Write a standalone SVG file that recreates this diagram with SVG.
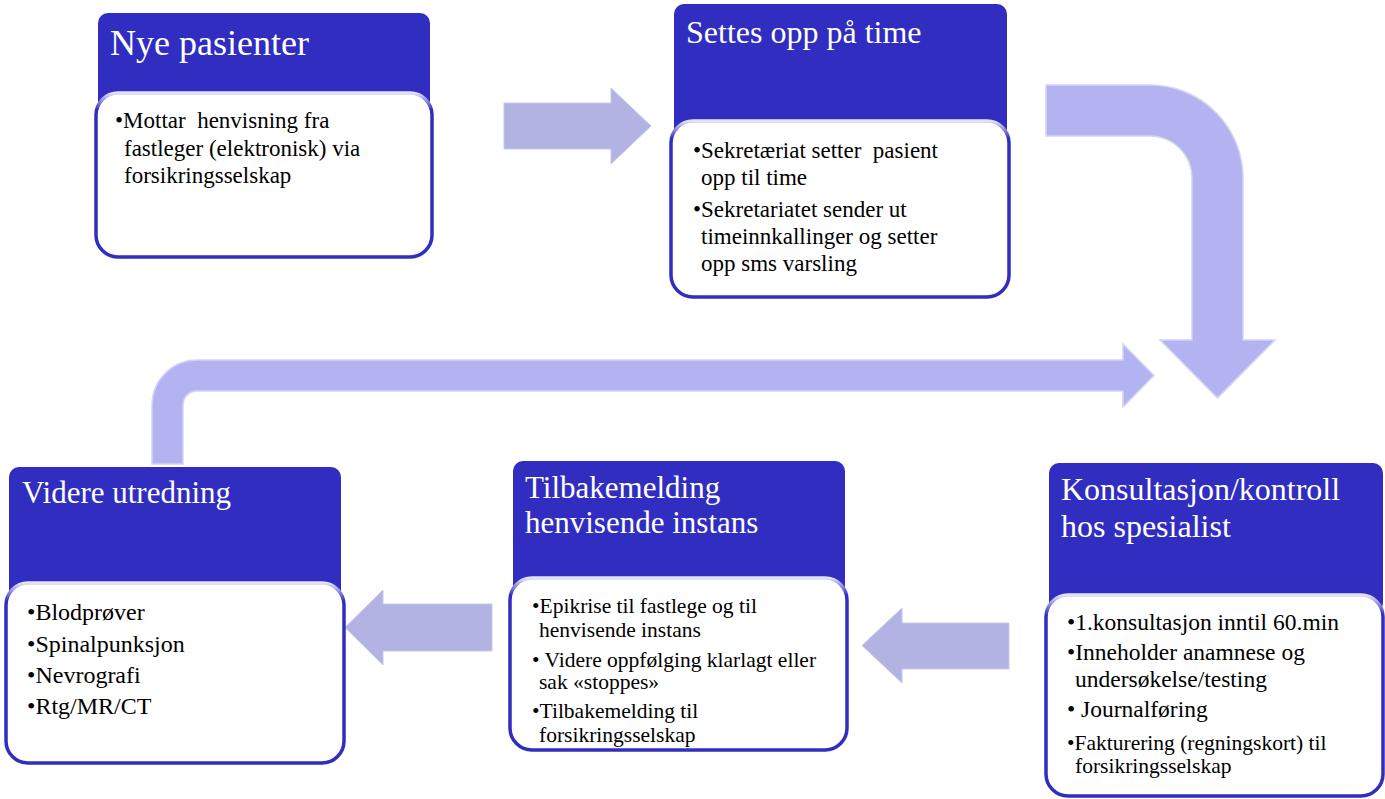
<svg xmlns="http://www.w3.org/2000/svg" width="1385" height="799" viewBox="0 0 1385 799">
<defs>
<linearGradient id="edge" x1="0" y1="0" x2="0" y2="1">
<stop offset="0" stop-color="#E4E4F6"/>
<stop offset="0.1" stop-color="#302DC0"/>
<stop offset="1" stop-color="#302DC0"/>
</linearGradient>
</defs>
<style>
.hdr{fill:#302DC0}
.body{fill:#FFFFFF;stroke:url(#edge);stroke-width:3.5}
.title{font-family:"Liberation Serif","Times New Roman",serif;fill:#FFFFFF}
.txt{font-family:"Liberation Serif","Times New Roman",serif;fill:#000000;white-space:pre}
.arr{fill:#B3B3E3;stroke:#C6C6EC;stroke-width:1}
.carr{fill:#B3B3F2;stroke:#D4D4F7;stroke-width:1.5}
</style>
<rect width="1385" height="799" fill="#FFFFFF"/>
<g id="connectors">
<path class="arr" d="M504,103 H611 V88 L651,126 L611,164 V149 H504 Z"/>
<path class="carr" d="M1046,85 H1150 A93,93 0 0 1 1243,178 V340 H1275 L1217.5,398 L1160,340 H1192 V178 A42,42 0 0 0 1150,136 H1046 Z"/>
<path class="arr" d="M1009,623 H902 V608 L862,645.5 L902,683 V669 H1009 Z"/>
<path class="arr" d="M492,604 H383 V590 L345,627.5 L383,665 V651 H492 Z"/>
<path class="carr" d="M152,464 V405 A45,45 0 0 1 197,360 H1123 V344 L1154,375.5 L1123,407 V391 H197 A14,14 0 0 0 183,405 V464 Z"/>
</g>
<g id="node-nye-pasienter">
<rect class="hdr" x="98" y="13" width="332" height="100" rx="10"/>
<rect class="body" x="96" y="93" width="336" height="164" rx="22"/>
<text class="title" x="110" y="55" font-size="36">Nye pasienter</text>
<g class="txt" font-size="23">
<text x="115" y="128" xml:space="preserve">•Mottar  henvisning fra</text>
<text x="124" y="156">fastleger (elektronisk) via</text>
<text x="124" y="183">forsikringsselskap</text>
</g>
</g>
<g id="node-settes-opp">
<rect class="hdr" x="674" y="4" width="333" height="135" rx="10"/>
<rect class="body" x="671" y="121" width="338" height="176" rx="22"/>
<text class="title" x="686" y="43" font-size="32">Settes opp på time</text>
<g class="txt" font-size="23">
<text x="693" y="158" xml:space="preserve">•Sekretæriat setter  pasient</text>
<text x="701" y="185">opp til time</text>
<text x="693" y="217">•Sekretariatet sender ut</text>
<text x="701" y="244">timeinnkallinger og setter</text>
<text x="701" y="271">opp sms varsling</text>
</g>
</g>
<g id="node-konsultasjon">
<rect class="hdr" x="1049" y="463" width="334" height="150" rx="10"/>
<rect class="body" x="1046" y="595" width="337" height="201" rx="22"/>
<text class="title" font-size="32"><tspan x="1061" y="500">Konsultasjon/kontroll</tspan><tspan x="1061" y="537">hos spesialist</tspan></text>
<g class="txt" font-size="23.5">
<text x="1067" y="630">•1.konsultasjon inntil 60.min</text>
<text x="1067" y="660">•Inneholder anamnese og</text>
<text x="1075" y="687">undersøkelse/testing</text>
<text x="1067" y="717" xml:space="preserve">• Journalføring</text>
</g>
<g class="txt" font-size="21.5">
<text x="1067" y="750">•Fakturering (regningskort) til</text>
<text x="1075" y="773">forsikringsselskap</text>
</g>
</g>
<g id="node-tilbakemelding">
<rect class="hdr" x="513" y="461" width="332" height="135" rx="10"/>
<rect class="body" x="510" y="578" width="337" height="172" rx="22"/>
<text class="title" font-size="31"><tspan x="525" y="498">Tilbakemelding</tspan><tspan x="525" y="533">henvisende instans</tspan></text>
<g class="txt" font-size="21.5">
<text x="532" y="613">•Epikrise til fastlege og til</text>
<text x="539" y="637">henvisende instans</text>
<text x="532" y="667" xml:space="preserve">• Videre oppfølging klarlagt eller</text>
<text x="539" y="689">sak «stoppes»</text>
<text x="532" y="718">•Tilbakemelding til</text>
<text x="539" y="742">forsikringsselskap</text>
</g>
</g>
<g id="node-videre-utredning">
<rect class="hdr" x="9" y="467" width="332" height="135" rx="10"/>
<rect class="body" x="6" y="583" width="338" height="180" rx="22"/>
<text class="title" x="22" y="503" font-size="31">Videre utredning</text>
<g class="txt" font-size="24">
<text x="27" y="620">•Blodprøver</text>
<text x="27" y="652">•Spinalpunksjon</text>
<text x="27" y="683">•Nevrografi</text>
<text x="27" y="714">•Rtg/MR/CT</text>
</g>
</g>
</svg>
